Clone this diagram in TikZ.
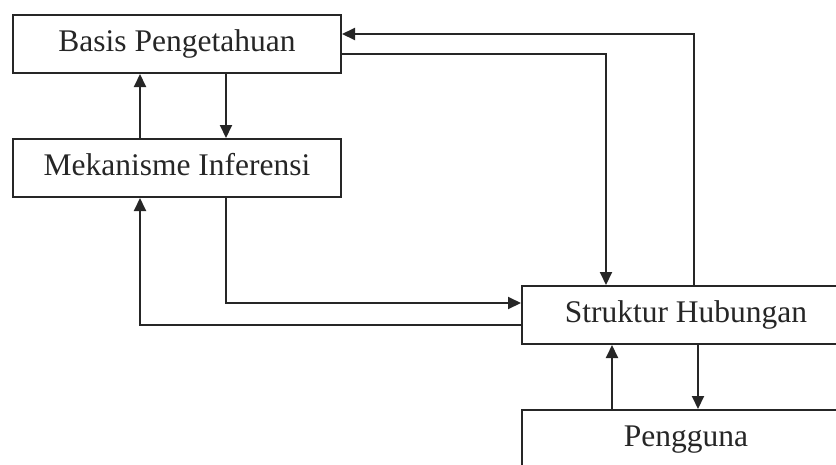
\documentclass[tikz,border=0pt]{standalone}
\usepackage{fontspec}
\setmainfont{Liberation Serif}
\usetikzlibrary{arrows.meta}

\tikzset{
  block/.style={draw=black!85, line width=2pt, rectangle, inner sep=0pt,
    minimum width=328pt, minimum height=58pt, anchor=north west,
    font=\fontsize{31.5}{36}\selectfont, text=black!85,
    text height=22pt, text depth=7pt},
  link/.style={draw=black!85, line width=2pt,
    -{Triangle[length=13pt,width=12pt]}},
  wire/.style={draw=black!85, line width=2pt}
}

\begin{document}
\begin{tikzpicture}[x=1pt, y=-1pt]
  \useasboundingbox (0,0) rectangle (836,464);
  \clip (0,0) rectangle (836,464);

  % blocks
  \node[block] (basis) at (12,14)  {Basis Pengetahuan};
  \node[block] (mek)   at (12,138) {Mekanisme Inferensi};
  \node[block] (struk) at (521,285) {Struktur Hubungan};
  \node[block] (user)  at (521,409) {Pengguna};

  % vertical routing columns and horizontal routing rows
  \coordinate (colA) at (140,0);
  \coordinate (colB) at (226,0);
  \coordinate (colC) at (606,0);
  \coordinate (colD) at (694,0);
  \coordinate (colE) at (612,0);
  \coordinate (colF) at (698,0);
  \coordinate (rowA) at (0,34);
  \coordinate (rowB) at (0,54);
  \coordinate (rowC) at (0,303);
  \coordinate (rowD) at (0,325);

  % inference <-> knowledge base
  \draw[link] (mek.north -| colA) -- (basis.south -| colA);
  \draw[link] (basis.south -| colB) -- (mek.north -| colB);

  % structure <-> knowledge base
  \draw[link] (struk.north -| colD) |- (basis.east |- rowA);
  \draw[link] (basis.east |- rowB) -| (struk.north -| colC);

  % inference <-> structure
  \draw[link] (mek.south -| colB) |- (struk.west |- rowC);
  \draw[link] (struk.west |- rowD) -| (mek.south -| colA);

  % user <-> structure
  \draw[link] (user.north -| colE) -- (struk.south -| colE);
  \draw[link] (struk.south -| colF) -- (user.north -| colF);
\end{tikzpicture}
\end{document}
